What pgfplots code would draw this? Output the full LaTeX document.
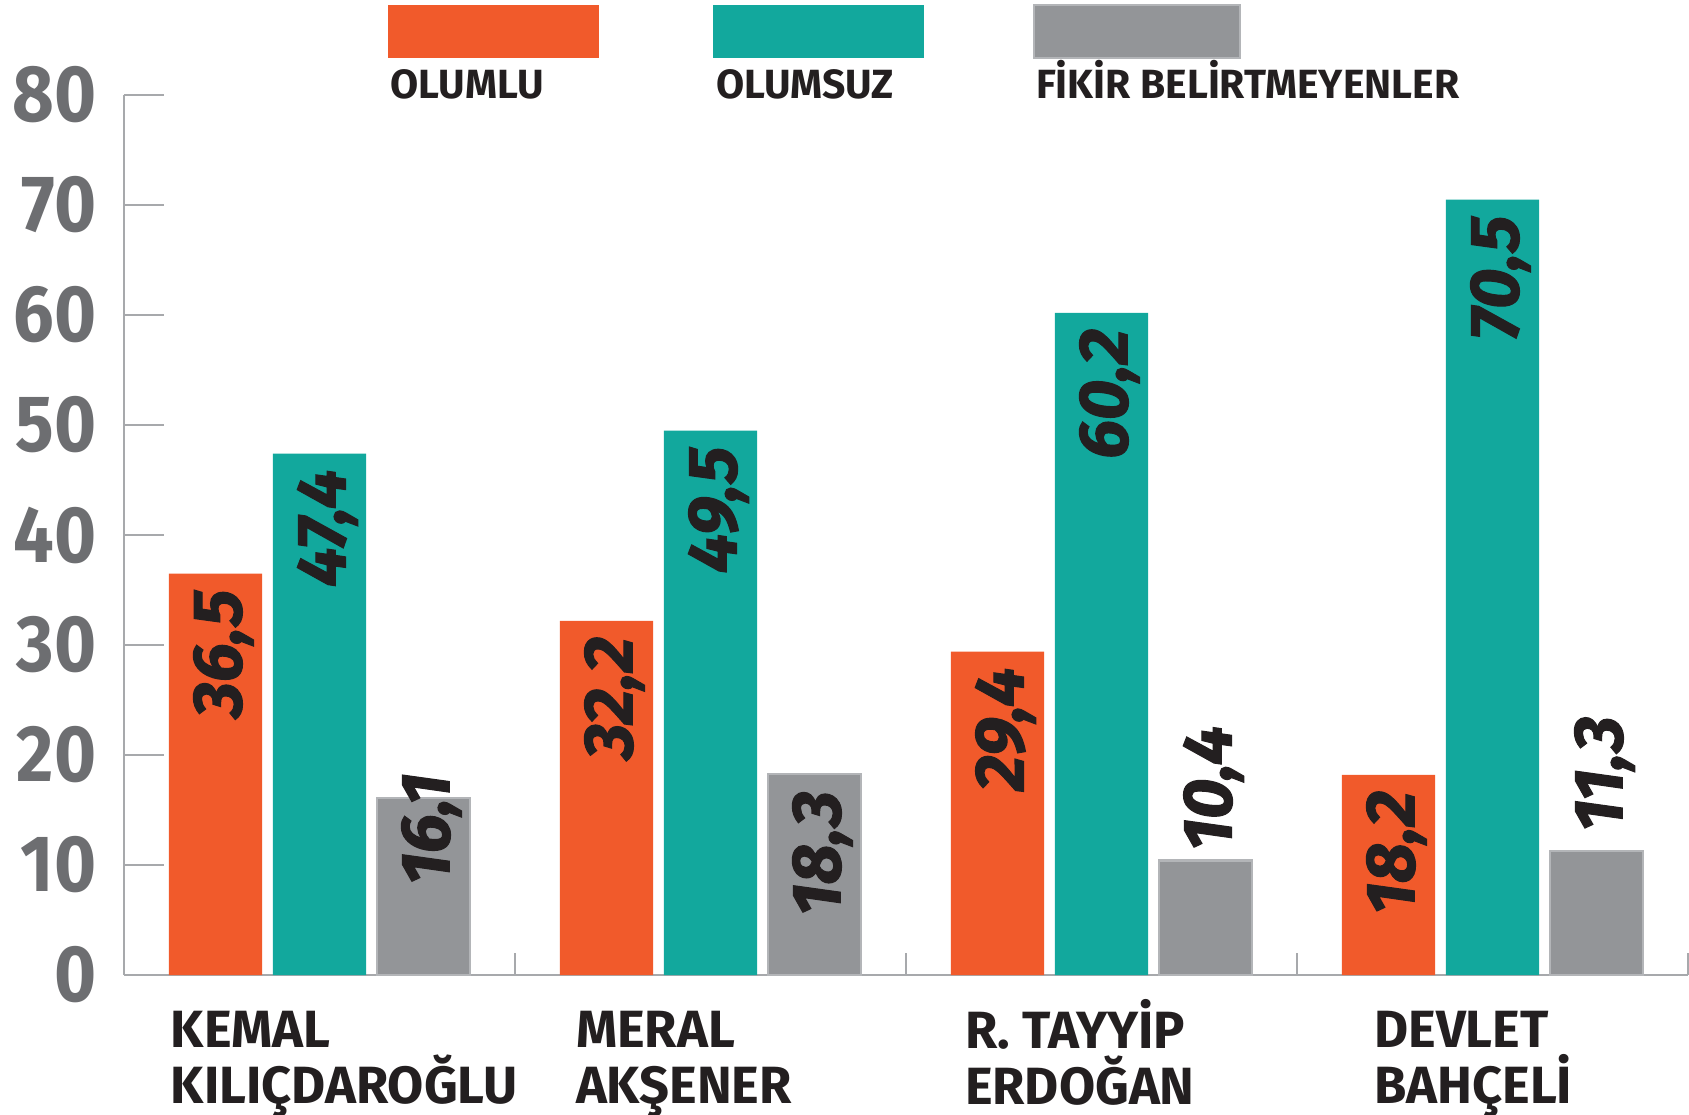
\documentclass[border=0pt]{standalone}
\usepackage{fontspec}
\setmainfont{Fira Sans}
\newfontfamily\tickfont[FakeStretch=0.9]{Fira Sans}
\newfontfamily\valfam{Fira Sans}[BoldItalicFeatures={FakeBold=1.6}]
\usepackage{pgfplots}
\pgfplotsset{compat=1.18}
\definecolor{cor}{HTML}{F15A2B}
\definecolor{cteal}{HTML}{12A89D}
\definecolor{cgrey}{HTML}{939598}
\definecolor{greyborder}{HTML}{B3B5B8}
\definecolor{axisgray}{HTML}{A7A9AC}
\definecolor{tickgray}{HTML}{6D6E71}
\definecolor{textblack}{HTML}{231F20}
\newcommand{\valfont}{\valfam\bfseries\itshape\fontsize{17.4}{18}\selectfont}
\newcommand{\Lr}{\rule{0pt}{12pt}}
\begin{document}
\begin{tikzpicture}
\useasboundingbox (-31pt,-34.75pt) rectangle (391.25pt,243.75pt);
\begin{axis}[
 at={(0pt,0pt)}, anchor=origin,
 x=97.75pt, y=2.75pt,
 xmin=0, xmax=4, ymin=0, ymax=80,
 axis lines=left,
 axis line style={-, draw=axisgray, line width=0.6pt},
 clip=false,
 ytick={0,10,...,80},
 tick align=inside,
 major tick length=10pt,
 ytick style={draw=axisgray, line width=0.6pt},
 yticklabel style={font=\tickfont\bfseries\fontsize{20}{20}\selectfont, color=tickgray, inner sep=0pt, anchor=east, xshift=-6.75pt},
 /pgf/number format/assume math mode=true,
 xtick={0.118,1.154,2.149,3.196},
 xticklabels={{\Lr KEMAL\\KILIÇDAROĞLU},{\Lr MERAL\\AKŞENER},{\Lr R. TAYYİP\\ERDOĞAN},{\Lr DEVLET\\BAHÇELİ}},
 xticklabel style={font=\bfseries\fontsize{13.1}{14}\selectfont, color=textblack, align=left, anchor=north west, inner sep=0pt, yshift=-6pt},
 xtick style={draw=none},
 extra x ticks={1,2,3,4},
 extra x tick labels={},
 extra x tick style={major tick length=5.5pt, xtick style={draw=axisgray, line width=0.6pt}},
 vlab/.style={draw=none, mark=none, point meta=explicit symbolic, nodes near coords,
   every node near coord/.style={font=\valfont, color=textblack, inner sep=0pt, anchor=east, xshift=2pt, rotate=90}},
]
\addplot[ybar, bar width=0.238, bar shift=-0.266, fill=cor, draw=none]
  coordinates {(0.5,36.5) (1.5,32.2) (2.5,29.4) (3.5,18.2)};
\addplot[ybar, bar width=0.238, bar shift=0, fill=cteal, draw=none]
  coordinates {(0.5,47.4) (1.5,49.5) (2.5,60.2) (3.5,70.5)};
\addplot[ybar, bar width=0.238, bar shift=0.266, fill=cgrey, draw=greyborder, line width=0.6pt]
  coordinates {(0.5,16.1) (1.5,18.3) (2.5,10.4) (3.5,11.3)};
% value labels (top end of each rotated label)
\addplot[vlab] coordinates {(0.234,35.1) [{36,5}] (1.234,30.8) [{32,2}] (2.234,28.0) [{29,4}] (3.234,16.8) [{18,2}]};
\addplot[vlab] coordinates {(0.5,46.0) [{47,4}] (1.5,48.1) [{49,5}] (2.5,58.8) [{60,2}] (3.5,69.1) [{70,5}]};
\addplot[vlab] coordinates {(0.766,18.4) [{16,1}] (1.766,16.8) [{18,3}] (2.766,22.7) [{10,4}] (3.766,23.6) [{11,3}]};
\end{axis}
% legend
\fill[cor] (66pt,229.25pt) rectangle (118.75pt,242.5pt);
\fill[cteal] (147.25pt,229.25pt) rectangle (200pt,242.5pt);
\filldraw[fill=cgrey, draw=greyborder, line width=0.6pt] (227.5pt,229.25pt) rectangle (279pt,242.5pt);
\begin{scope}[every node/.style={anchor=base west, inner sep=0pt, font=\bfseries\fontsize{10.2}{12}\selectfont, text=textblack}]
\node at (66.5pt,219pt) {OLUMLU};
\node at (147.8pt,219pt) {OLUMSUZ};
\node at (227.8pt,219pt) {FİKİR BELİRTMEYENLER};
\end{scope}
\end{tikzpicture}
\end{document}
